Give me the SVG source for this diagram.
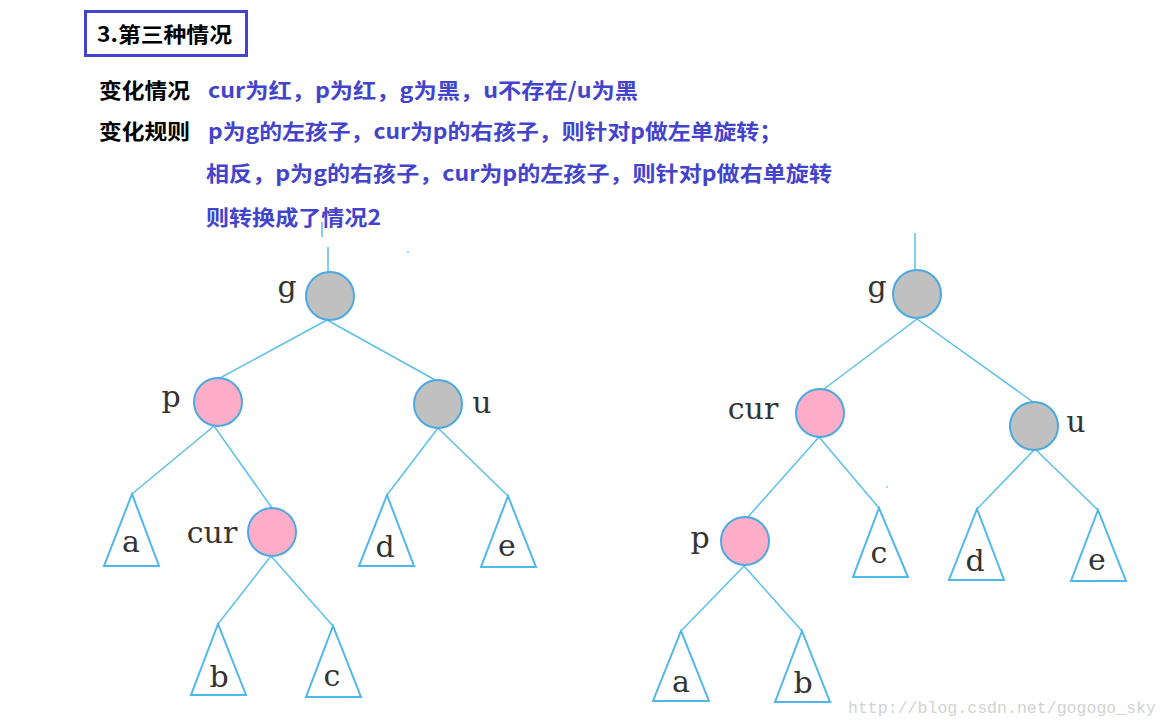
<svg xmlns="http://www.w3.org/2000/svg" width="1169" height="727" viewBox="0 0 1169 727">
<style>
.hd{font-family:"Noto Sans CJK SC","Noto Sans",sans-serif;font-weight:bold;font-size:21px;fill:#000}
.bl{font-family:"Noto Sans CJK SC","Noto Sans",sans-serif;font-weight:bold;font-size:21px;fill:#4343cc}
.e{stroke:#5bbfec;stroke-width:1.5;fill:none}
.red{fill:#feadc8;stroke:#4aa9e0;stroke-width:2}
.blk{fill:#c0c0c0;stroke:#4aa9e0;stroke-width:2}
.tri{fill:#fff;stroke:#4fb8ea;stroke-width:2;stroke-linejoin:miter}
.lb{font-family:"DejaVu Serif","Liberation Serif",serif;font-size:30px;fill:#333;text-anchor:middle}
.wm{font-family:"Liberation Mono","DejaVu Sans Mono",monospace;font-size:17px;fill:#d2d2d2}
</style>
<rect width="1169" height="727" fill="#fff"/>
<g id="title">
<rect x="85.5" y="11.5" width="161" height="44" fill="none" stroke="#4343cc" stroke-width="3"/>
<text class="hd" x="97" y="42" textLength="135" lengthAdjust="spacingAndGlyphs">3.第三种情况</text>
</g>
<g id="desc">
<text class="hd" x="99" y="98" textLength="91" lengthAdjust="spacingAndGlyphs">变化情况</text>
<text class="hd" x="99" y="139" textLength="91" lengthAdjust="spacingAndGlyphs">变化规则</text>
<text class="bl" x="208" y="98" textLength="430" lengthAdjust="spacingAndGlyphs">cur为红，p为红，g为黑，u不存在/u为黑</text>
<text class="bl" x="208" y="139" textLength="574" lengthAdjust="spacingAndGlyphs">p为g的左孩子，cur为p的右孩子，则针对p做左单旋转；</text>
<text class="bl" x="206" y="181" textLength="626" lengthAdjust="spacingAndGlyphs">相反，p为g的右孩子，cur为p的左孩子，则针对p做右单旋转</text>
<text class="bl" x="206" y="225" textLength="175" lengthAdjust="spacingAndGlyphs">则转换成了情况2</text>
</g>
<g id="connectors">
<line class="e" x1="322" y1="222" x2="322" y2="237"/>
<line class="e" x1="328" y1="247" x2="328" y2="273"/>
<line class="e" x1="327" y1="320" x2="220" y2="378"/>
<line class="e" x1="327" y1="320" x2="437" y2="381"/>
<line class="e" x1="214" y1="426" x2="132" y2="494"/>
<line class="e" x1="214" y1="426" x2="272" y2="508"/>
<line class="e" x1="271" y1="556" x2="218" y2="624"/>
<line class="e" x1="271" y1="556" x2="333" y2="626"/>
<line class="e" x1="438" y1="428" x2="387" y2="495"/>
<line class="e" x1="438" y1="428" x2="508" y2="496"/>
<line class="e" x1="915" y1="233" x2="915" y2="271"/>
<line class="e" x1="917" y1="319" x2="824" y2="389"/>
<line class="e" x1="917" y1="319" x2="1033" y2="402"/>
<line class="e" x1="819" y1="437" x2="747" y2="518"/>
<line class="e" x1="819" y1="437" x2="879" y2="508"/>
<line class="e" x1="1035" y1="449" x2="977" y2="509"/>
<line class="e" x1="1035" y1="449" x2="1098" y2="510"/>
<line class="e" x1="744" y1="566" x2="681" y2="631"/>
<line class="e" x1="744" y1="566" x2="802" y2="631"/>
<circle cx="408" cy="252" r="1" fill="#7fcdf0"/>
<circle cx="887" cy="487" r="1" fill="#7fcdf0"/>
</g>
<g id="L-g"><circle class="blk" cx="330" cy="296" r="24"/><text class="lb" x="287" y="297">g</text></g>
<g id="L-p"><circle class="red" cx="218" cy="402" r="24"/><text class="lb" x="171" y="407">p</text></g>
<g id="L-u"><circle class="blk" cx="438" cy="404" r="24"/><text class="lb" x="482" y="413">u</text></g>
<g id="L-cur"><circle class="red" cx="272" cy="532" r="24"/><text class="lb" x="212" y="543">cur</text></g>
<g id="L-a"><polygon class="tri" points="132,494 104,566 159,566"/><text class="lb" x="131" y="552">a</text></g>
<g id="L-b"><polygon class="tri" points="218,624 191,695 246,695"/><text class="lb" x="219" y="687">b</text></g>
<g id="L-c"><polygon class="tri" points="333,626 306,697 361,697"/><text class="lb" x="332" y="686">c</text></g>
<g id="L-d"><polygon class="tri" points="387,495 359,566 414,566"/><text class="lb" x="385" y="557">d</text></g>
<g id="L-e"><polygon class="tri" points="508,496 481,567 536,567"/><text class="lb" x="507" y="556">e</text></g>
<g id="R-g"><circle class="blk" cx="917" cy="294" r="24"/><text class="lb" x="877" y="297">g</text></g>
<g id="R-cur"><circle class="red" cx="820" cy="413" r="24"/><text class="lb" x="753" y="419">cur</text></g>
<g id="R-u"><circle class="blk" cx="1034" cy="426" r="24"/><text class="lb" x="1076" y="432">u</text></g>
<g id="R-p"><circle class="red" cx="745" cy="541" r="24"/><text class="lb" x="700" y="548">p</text></g>
<g id="R-c"><polygon class="tri" points="879,508 853,577 908,577"/><text class="lb" x="879" y="563">c</text></g>
<g id="R-d"><polygon class="tri" points="977,509 949,580 1004,580"/><text class="lb" x="975" y="571">d</text></g>
<g id="R-e"><polygon class="tri" points="1098,510 1071,581 1126,581"/><text class="lb" x="1097" y="570">e</text></g>
<g id="R-a"><polygon class="tri" points="681,631 653,701 709,701"/><text class="lb" x="681" y="692">a</text></g>
<g id="R-b"><polygon class="tri" points="802,631 775,702 830,702"/><text class="lb" x="803" y="693">b</text></g>
<text class="wm" x="848" y="713" textLength="308" lengthAdjust="spacingAndGlyphs">http://blog.csdn.net/gogogo_sky</text>
</svg>
